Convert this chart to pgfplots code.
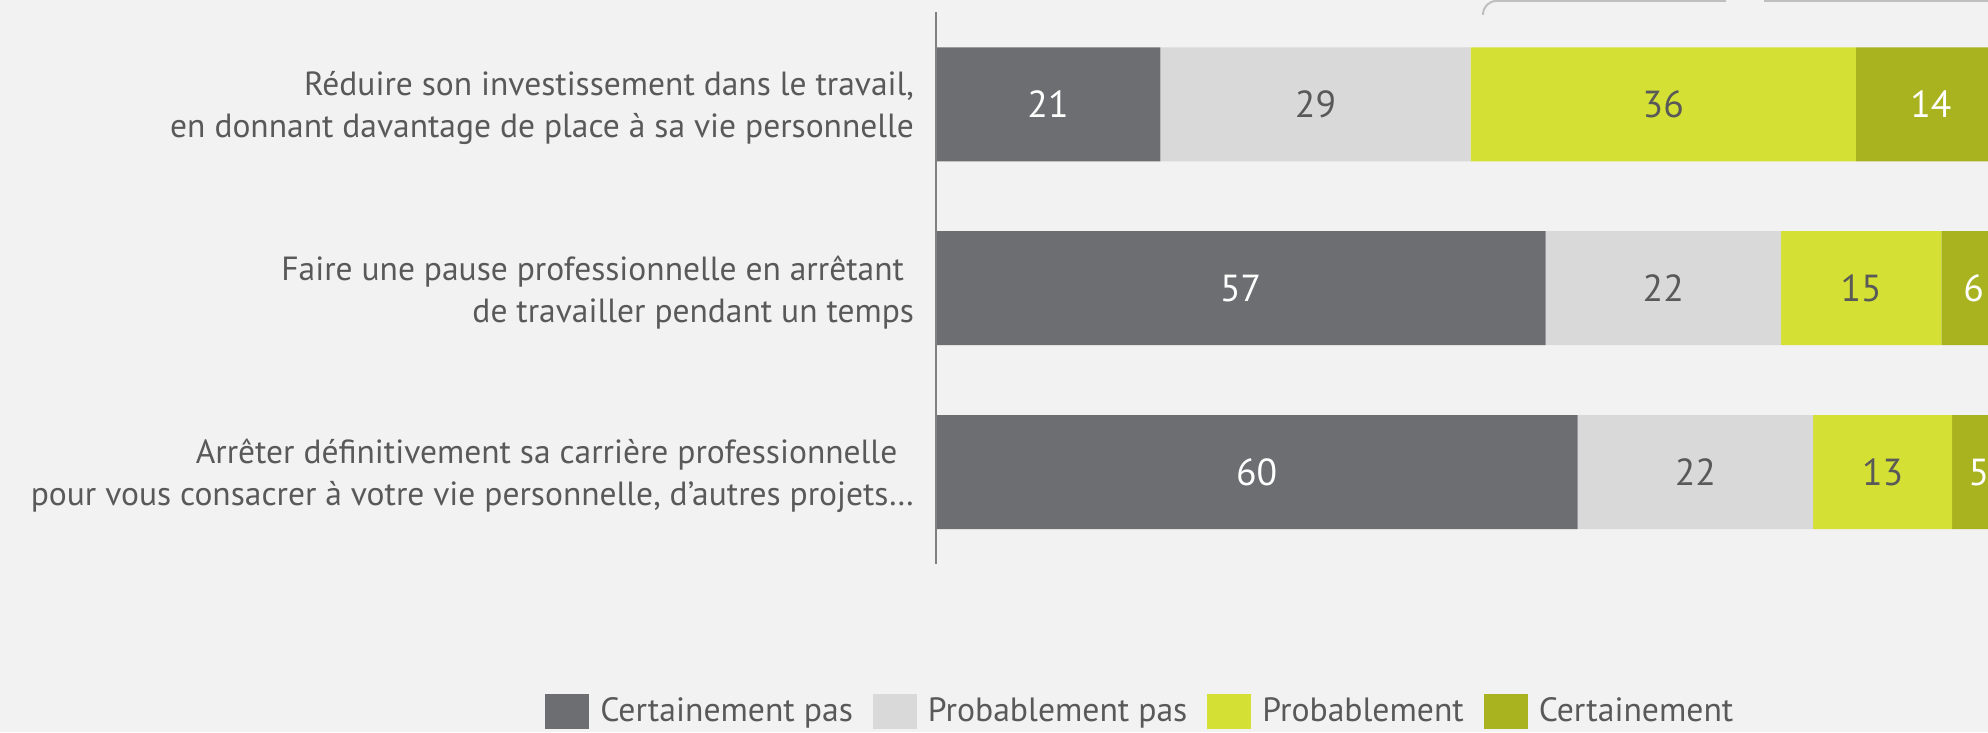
\documentclass[border=0pt]{standalone}
\usepackage{pgfplots}
\usepackage{pgfplotstable}
\pgfplotsset{compat=1.18}
\usepackage{fontspec}
\setmainfont{PT Sans}
\definecolor{bg}{HTML}{F2F2F2}
\definecolor{c1}{HTML}{6D6E71}
\definecolor{c2}{HTML}{D9D9D9}
\definecolor{c3}{HTML}{D4E034}
\definecolor{c4}{HTML}{A9B21F}
\definecolor{txt}{HTML}{595959}
\definecolor{axgray}{HTML}{808080}
\definecolor{boxgray}{HTML}{BFBFBF}
\pgfplotstableread{
y a b c d
0 60 22 13 5
1 57 22 15 6
2 21 29 36 14
}\datatable
\begin{document}
\begin{tikzpicture}
\fill[bg] (0pt,0pt) rectangle (596.4pt,219.6pt);
\draw[boxgray, line width=0.6pt, rounded corners=4pt] (444.9pt,215.1pt) -- (444.9pt,219.3pt) -- (517.8pt,219.3pt);
\draw[boxgray, line width=0.6pt] (529.2pt,219.3pt) -- (620pt,219.3pt);
\begin{axis}[
  at={(280.7pt,50.4pt)}, anchor=south west, scale only axis,
  width=321.0pt, height=165.45pt,
  xmin=0, xmax=100, ymin=-0.5, ymax=2.5,
  xbar stacked, bar width=34.2pt,
  axis x line=none, axis y line*=left,
  y axis line style={-, draw=axgray, line width=0.5pt},
  ytick={0,1,2}, major tick length=0pt,
  yticklabels={{Arrêter définitivement sa carrière professionnelle\hspace*{0.5em}\\pour vous consacrer à votre vie personnelle, d’autres projets…},
               {Faire une pause professionnelle en arrêtant\hspace*{0.3em}\\de travailler pendant un temps},
               {Réduire son investissement dans le travail,\\en donnant davantage de place à sa vie personnelle}},
  yticklabel style={align=right, font=\fontsize{10.05}{12.6}\selectfont, text=txt, inner sep=0pt, xshift=-6.3pt, yshift=-1.2pt},
  axis on top,
  clip=false,
  /pgf/number format/assume math mode=true,
  visualization depends on={rawx \as \rawx},
  nodes near coords={\pgfmathprintnumber{\rawx}},
  every node near coord/.append style={anchor=center, font=\fontsize{11.3}{12}\selectfont},
  legend columns=4,
  legend style={draw=none, fill=none, at={(0.1935,-0.268)}, anchor=center,
     font=\fontsize{10.1}{11}\selectfont, text=txt,
     /tikz/every even column/.append style={column sep=4pt}},
  legend image code/.code={\fill[#1,draw=none] (0pt,-5.25pt) rectangle (13.2pt,5.25pt);\path (14.5pt,0pt);},
]
\addplot[fill=c1, draw=none, every node near coord/.append style={text=white}] table[x=a,y=y]{\datatable};
\addlegendentry{Certainement pas}
\addplot[fill=c2, draw=none, every node near coord/.append style={text=txt}] table[x=b,y=y]{\datatable};
\addlegendentry{Probablement pas}
\addplot[fill=c3, draw=none, every node near coord/.append style={text=txt}] table[x=c,y=y]{\datatable};
\addlegendentry{Probablement}
\addplot[fill=c4, draw=none, every node near coord/.append style={text=white}] table[x=d,y=y]{\datatable};
\addlegendentry{Certainement}
\end{axis}
\pgfresetboundingbox
\useasboundingbox (0pt,0pt) rectangle (596.4pt,219.6pt);
\end{tikzpicture}
\end{document}
